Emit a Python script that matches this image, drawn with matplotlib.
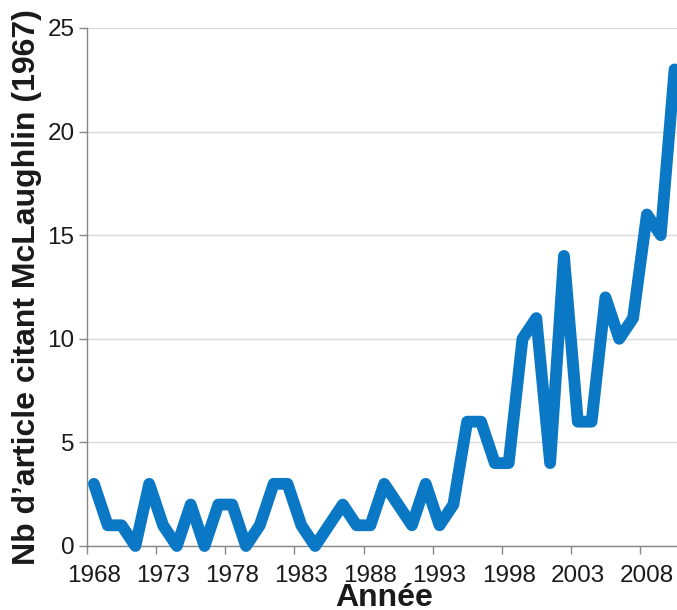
import matplotlib.pyplot as plt
from matplotlib.ticker import FixedLocator

years = list(range(1968, 2011))
counts = [3, 1, 1, 0, 3, 1, 0, 2, 0, 2,
          2, 0, 1, 3, 3, 1, 0, 1, 2, 1,
          1, 3, 2, 1, 3, 1, 2, 6, 6, 4,
          4, 10, 11, 4, 14, 6, 6, 12, 10, 11,
          16, 15, 23]
label_years = list(range(1968, 2009, 5))
y_ticks = [0, 5, 10, 15, 20, 25]

plt.rcParams['font.family'] = ['Liberation Sans', 'DejaVu Sans']

fig = plt.figure(figsize=(6.77, 6.10), dpi=100)
px = 13.825
ax = fig.add_axes([87 / 677, 64 / 610, 43 * px / 677, 518 / 610])

ax.plot(years, counts, color='#0a78c4', lw=8.5, solid_joinstyle='round',
        solid_capstyle='round', clip_on=False, zorder=3)

ax.set_xlim(1967.5, 2010.5)
ax.set_ylim(0, 25)

# ticks between categories, labels centred on categories
ax.xaxis.set_major_locator(FixedLocator([y - 0.5 for y in label_years]))
ax.xaxis.set_minor_locator(FixedLocator(label_years))
ax.set_xticklabels([], minor=False)
ax.set_xticklabels([str(y) for y in label_years], minor=True)
ax.tick_params(axis='x', which='major', direction='out', length=6, width=1, color='#868686')
ax.tick_params(axis='x', which='minor', length=0, labelsize=17.5, pad=14, colors='#1a1a1a')

ax.set_yticks(y_ticks)
ax.tick_params(axis='y', direction='out', length=6, width=1, color='#868686',
               labelsize=17.5, pad=3, labelcolor='#1a1a1a')

ax.grid(axis='y', color='#d9d9d9', lw=1)
ax.set_axisbelow(True)
for side in ['top', 'right']:
    ax.spines[side].set_visible(False)
for side in ['left', 'bottom']:
    ax.spines[side].set_color('#868686')
    ax.spines[side].set_linewidth(1)

ax.set_ylabel("Nb d\u2019article citant McLaughlin (1967)", fontsize=23,
              fontweight='bold', labelpad=4, color='#1a1a1a')
ax.set_xlabel('Ann\u00e9e', fontsize=23, fontweight='bold', labelpad=-3, color='#1a1a1a')

fig.savefig('out.png', dpi=100)
